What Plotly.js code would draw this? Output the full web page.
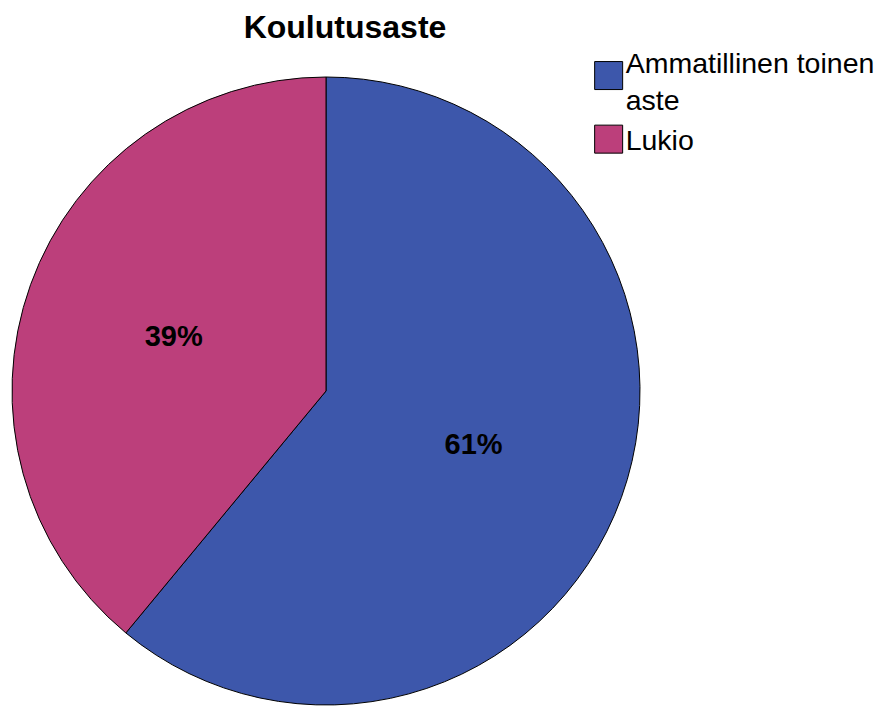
<!DOCTYPE html>
<html>
<head>
<meta charset="utf-8">
<script src="https://cdn.plot.ly/plotly-3.0.1.min.js"></script>
<style>
html,body{margin:0;padding:0;background:#fff;}
#chart{width:882px;height:707px;}
</style>
</head>
<body>
<div id="chart"></div>
<script>
const chartTitle = "Koulutusaste";
const categories = ["Ammatillinen toinen<br>aste", "Lukio"];
const shares = [61, 39];
const sliceColors = ["#3d57ab", "#bc3f7b"];

const legendFontSize = 28.5;

const data = [{
  type: "pie",
  labels: categories,
  values: shares,
  sort: false,
  direction: "clockwise",
  rotation: 0,
  marker: {colors: sliceColors, line: {color: "#000000", width: 1}},
  texttemplate: "%{percent:.0%}",
  textposition: "inside",
  insidetextorientation: "horizontal",
  textfont: {family: "Arial, 'Liberation Sans', sans-serif", size: 29, color: "#000000", weight: "bold"},
  domain: {x: [12/882, 640/882], y: [2/707, 630/707]},
  hoverinfo: "label+percent"
}];

const layout = {
  width: 882, height: 707,
  margin: {l: 0, r: 0, t: 0, b: 0},
  paper_bgcolor: "#ffffff",
  title: {
    text: "<b>" + chartTitle + "</b>",
    x: 345/882, xanchor: "center",
    y: 1 - 27/707, yanchor: "middle",
    font: {family: "Arial, 'Liberation Sans', sans-serif", size: 32, color: "#000000"}
  },
  showlegend: true,
  legend: {
    x: 0.664, xanchor: "left",
    y: 1 - 37/707, yanchor: "top",
    font: {family: "Arial, 'Liberation Sans', sans-serif", size: legendFontSize, color: "#000000"},
    bgcolor: "rgba(0,0,0,0)",
    tracegroupgap: 0
  }
};

Plotly.newPlot("chart", data, layout, {displayModeBar: false, staticPlot: true}).then(function (gd) {
  // enlarge the legend swatches to match the reference style
  const half = 14, dx = 3;
  gd.querySelectorAll(".legend .traces").forEach(function (tr) {
    const txt = tr.querySelector("text.legendtext");
    const lines = txt ? Math.max(1, txt.querySelectorAll("tspan.line").length) : 1;
    const off = (lines - 1) * 5;
    tr.querySelectorAll("path.legendpie").forEach(function (p) {
      p.setAttribute("d",
        "M" + (half + dx) + "," + (half - off) +
        "H" + (-half + dx) + "V" + (-half - off) +
        "H" + (half + dx) + "Z");
    });
  });
});
</script>
</body>
</html>
